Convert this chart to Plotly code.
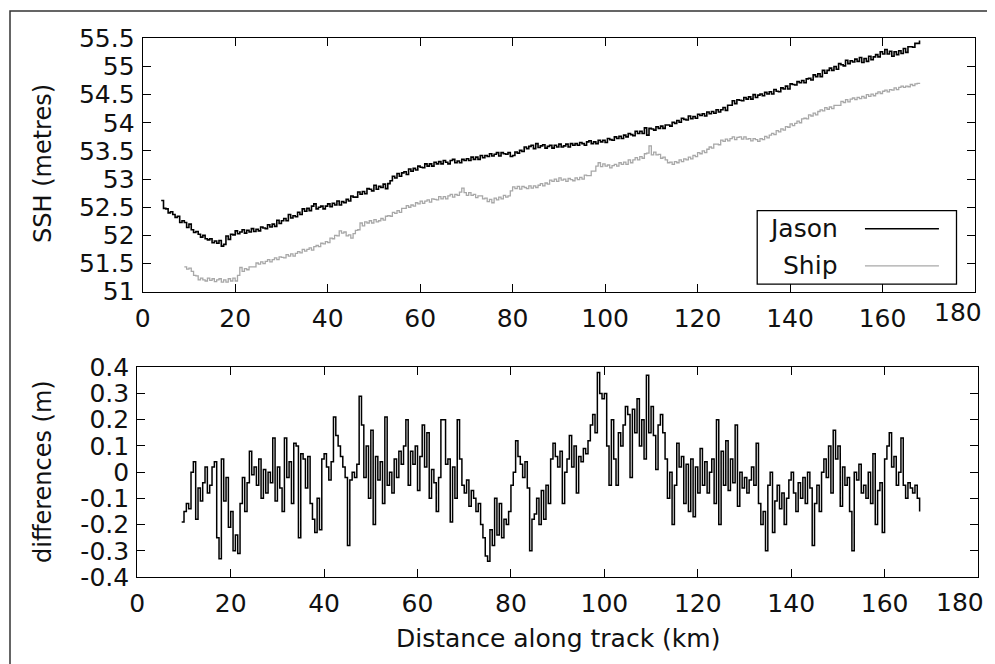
import plotly.graph_objects as go

# ---------------- data ----------------
step_km = 0.5

jason_start_km = 4.0
jason_ssh = [
    52.62, 52.48, 52.47, 52.40, 52.42, 52.37, 52.32, 52.34, 52.23, 52.26, 52.23, 52.14, 52.20, 52.10, 52.05, 52.07, 52.02, 51.97, 52.00, 51.94,
    51.92, 51.94, 51.87, 51.90, 51.86, 51.91, 51.81, 51.84, 51.99, 51.93, 52.02, 52.01, 52.08, 52.03, 52.06, 52.10, 52.04, 52.09, 52.06, 52.12,
    52.07, 52.11, 52.08, 52.15, 52.13, 52.12, 52.19, 52.15, 52.20, 52.16, 52.27, 52.21, 52.26, 52.30, 52.26, 52.37, 52.31, 52.35, 52.33, 52.41,
    52.37, 52.47, 52.43, 52.48, 52.44, 52.52, 52.56, 52.47, 52.50, 52.52, 52.47, 52.52, 52.56, 52.51, 52.57, 52.54, 52.61, 52.54, 52.60, 52.58,
    52.64, 52.61, 52.70, 52.68, 52.68, 52.77, 52.73, 52.78, 52.74, 52.83, 52.82, 52.79, 52.89, 52.82, 52.87, 52.85, 52.91, 52.83, 52.92, 52.97,
    53.05, 53.02, 53.10, 53.05, 53.11, 53.13, 53.08, 53.18, 53.14, 53.19, 53.16, 53.23, 53.21, 53.20, 53.27, 53.23, 53.27, 53.23, 53.30, 53.27,
    53.31, 53.27, 53.33, 53.30, 53.27, 53.33, 53.35, 53.29, 53.32, 53.29, 53.35, 53.33, 53.36, 53.33, 53.39, 53.35, 53.39, 53.35, 53.42, 53.38,
    53.42, 53.40, 53.45, 53.41, 53.44, 53.47, 53.41, 53.47, 53.45, 53.44, 53.47, 53.40, 53.42, 53.48, 53.46, 53.51, 53.49, 53.57, 53.54, 53.58,
    53.60, 53.54, 53.63, 53.56, 53.59, 53.61, 53.55, 53.58, 53.60, 53.55, 53.60, 53.57, 53.62, 53.57, 53.59, 53.62, 53.57, 53.63, 53.60, 53.63,
    53.60, 53.65, 53.63, 53.60, 53.66, 53.68, 53.63, 53.66, 53.63, 53.69, 53.66, 53.69, 53.65, 53.72, 53.70, 53.69, 53.75, 53.72, 53.76, 53.72,
    53.78, 53.75, 53.81, 53.79, 53.77, 53.85, 53.81, 53.85, 53.81, 53.91, 53.78, 53.90, 53.89, 53.87, 53.93, 53.90, 53.94, 53.90, 53.96, 53.96,
    53.94, 54.01, 53.99, 54.04, 54.01, 54.08, 54.06, 54.05, 54.12, 54.07, 54.11, 54.08, 54.15, 54.13, 54.16, 54.12, 54.19, 54.16, 54.20, 54.17,
    54.23, 54.19, 54.23, 54.27, 54.22, 54.31, 54.31, 54.39, 54.34, 54.41, 54.40, 54.39, 54.45, 54.42, 54.46, 54.42, 54.50, 54.45, 54.49, 54.51,
    54.48, 54.54, 54.51, 54.55, 54.51, 54.59, 54.56, 54.55, 54.62, 54.60, 54.65, 54.60, 54.69, 54.68, 54.67, 54.73, 54.71, 54.75, 54.71, 54.78,
    54.79, 54.76, 54.85, 54.82, 54.87, 54.82, 54.93, 54.88, 54.93, 54.97, 54.93, 55.00, 54.95, 55.05, 55.03, 55.01, 55.11, 55.05, 55.10, 55.08,
    55.13, 55.09, 55.16, 55.07, 55.14, 55.09, 55.18, 55.12, 55.17, 55.21, 55.17, 55.26, 55.22, 55.30, 55.22, 55.27, 55.18, 55.26, 55.21, 55.28,
    55.23, 55.32, 55.25, 55.35, 55.35, 55.34, 55.41, 55.41, 55.46,
]

ship_start_km = 9.0
ship_ssh = [
    51.44, 51.40, 51.42, 51.36, 51.29, 51.28, 51.21, 51.24, 51.21, 51.19, 51.24, 51.20, 51.23, 51.18, 51.21, 51.23, 51.17, 51.21, 51.17, 51.23,
    51.19, 51.24, 51.19, 51.29, 51.43, 51.36, 51.41, 51.39, 51.44, 51.44, 51.44, 51.51, 51.49, 51.53, 51.50, 51.54, 51.57, 51.53, 51.57, 51.60,
    51.57, 51.62, 51.61, 51.60, 51.66, 51.63, 51.67, 51.63, 51.68, 51.71, 51.69, 51.75, 51.72, 51.75, 51.78, 51.74, 51.80, 51.82, 51.80, 51.86,
    51.85, 51.89, 51.87, 51.95, 51.94, 52.00, 51.99, 52.08, 52.04, 52.06, 51.99, 52.01, 51.95, 52.03, 52.09, 52.10, 52.22, 52.17, 52.24, 52.22,
    52.26, 52.22, 52.28, 52.24, 52.26, 52.30, 52.27, 52.34, 52.35, 52.34, 52.41, 52.39, 52.44, 52.41, 52.48, 52.48, 52.53, 52.50, 52.54, 52.52,
    52.58, 52.56, 52.61, 52.57, 52.61, 52.63, 52.59, 52.65, 52.64, 52.63, 52.69, 52.65, 52.69, 52.65, 52.70, 52.73, 52.68, 52.73, 52.71, 52.77,
    52.84, 52.76, 52.71, 52.76, 52.71, 52.73, 52.67, 52.70, 52.70, 52.65, 52.66, 52.60, 52.64, 52.58, 52.66, 52.63, 52.68, 52.65, 52.71, 52.68,
    52.70, 52.79, 52.86, 52.83, 52.87, 52.82, 52.87, 52.85, 52.83, 52.88, 52.84, 52.88, 52.85, 52.89, 52.92, 52.88, 52.93, 52.91, 52.98, 52.96,
    53.00, 52.96, 53.02, 52.98, 53.00, 52.96, 53.01, 52.99, 52.97, 53.02, 52.99, 53.03, 53.00, 53.07, 53.06, 53.06, 53.14, 53.14, 53.23, 53.29,
    53.22, 53.27, 53.23, 53.25, 53.20, 53.24, 53.26, 53.23, 53.29, 53.26, 53.30, 53.26, 53.34, 53.29, 53.34, 53.38, 53.34, 53.40, 53.37, 53.45,
    53.46, 53.59, 53.43, 53.48, 53.43, 53.44, 53.37, 53.39, 53.34, 53.29, 53.30, 53.26, 53.31, 53.29, 53.34, 53.31, 53.36, 53.34, 53.39, 53.36,
    53.42, 53.40, 53.47, 53.45, 53.50, 53.47, 53.53, 53.57, 53.55, 53.62, 53.62, 53.61, 53.69, 53.67, 53.71, 53.68, 53.72, 53.75, 53.70, 53.74,
    53.75, 53.71, 53.75, 53.71, 53.72, 53.68, 53.72, 53.70, 53.67, 53.72, 53.70, 53.76, 53.73, 53.78, 53.81, 53.79, 53.86, 53.84, 53.89, 53.87,
    53.93, 53.92, 53.98, 53.95, 53.99, 54.03, 54.00, 54.07, 54.08, 54.07, 54.14, 54.12, 54.17, 54.14, 54.20, 54.23, 54.21, 54.27, 54.24, 54.28,
    54.25, 54.31, 54.31, 54.31, 54.38, 54.36, 54.41, 54.37, 54.42, 54.44, 54.41, 54.45, 54.43, 54.47, 54.44, 54.50, 54.47, 54.51, 54.48, 54.52,
    54.55, 54.52, 54.56, 54.58, 54.55, 54.59, 54.58, 54.62, 54.59, 54.63, 54.65, 54.63, 54.65, 54.64, 54.68, 54.66, 54.69, 54.70, 54.69,
]

diff_start_km = 9.5
differences = [
    -0.19, -0.15, -0.12, -0.14, 0.00, 0.04, -0.18, -0.06, -0.11, -0.04, 0.02, -0.08, -0.05, 0.02, 0.04, -0.25, -0.33, 0.05, -0.11, -0.02,
    -0.21, -0.15, -0.30, -0.24, -0.31, -0.12, -0.02, -0.15, -0.04, 0.08, -0.01, 0.02, -0.05, 0.05, -0.10, 0.01, -0.08, 0.00, -0.04, 0.13,
    -0.11, 0.02, -0.06, -0.15, 0.13, -0.02, 0.04, -0.12, 0.11, 0.10, -0.25, 0.07, 0.05, -0.06, 0.06, -0.12, -0.18, -0.23, -0.10, -0.22,
    0.05, 0.07, 0.02, -0.03, 0.04, 0.21, 0.14, 0.10, 0.06, 0.02, -0.02, -0.28, -0.03, 0.00, -0.02, 0.03, 0.29, 0.18, -0.02, 0.10,
    -0.10, 0.16, -0.20, 0.06, -0.03, 0.04, -0.12, 0.21, -0.05, 0.00, -0.08, 0.05, -0.02, 0.08, 0.03, 0.10, 0.20, -0.05, 0.08, 0.03,
    0.10, -0.07, 0.06, 0.18, 0.02, 0.15, -0.10, 0.01, -0.04, -0.15, -0.02, 0.20, 0.20, 0.03, 0.05, -0.19, 0.02, -0.10, 0.20, 0.05,
    -0.05, -0.08, -0.03, -0.13, -0.07, -0.10, -0.15, -0.12, -0.20, -0.25, -0.32, -0.34, -0.22, -0.28, -0.10, -0.24, -0.12, -0.25, -0.18, -0.20,
    -0.15, -0.05, 0.00, 0.12, 0.06, 0.03, -0.02, 0.04, -0.06, -0.30, -0.18, -0.16, -0.10, -0.20, -0.07, -0.18, -0.05, -0.12, 0.05, 0.11,
    0.06, 0.02, 0.08, -0.12, 0.00, 0.05, 0.14, 0.02, 0.10, -0.08, 0.06, 0.04, 0.09, 0.07, 0.12, 0.18, 0.22, 0.15, 0.38, 0.30,
    0.28, 0.30, 0.10, -0.05, 0.20, 0.05, -0.05, 0.15, 0.10, 0.18, 0.25, 0.22, -0.02, 0.24, 0.15, 0.28, 0.10, 0.20, 0.05, 0.37,
    0.15, 0.25, 0.14, 0.01, 0.18, 0.22, 0.15, 0.05, -0.10, 0.00, -0.20, -0.05, 0.11, 0.02, 0.06, -0.12, 0.03, -0.15, 0.05, -0.17,
    0.02, -0.08, 0.09, -0.05, 0.04, -0.08, 0.00, 0.05, -0.12, 0.20, -0.20, 0.08, -0.05, 0.12, -0.07, 0.05, -0.04, 0.18, -0.13, 0.00,
    -0.06, -0.02, -0.08, -0.03, 0.02, -0.05, 0.11, -0.12, -0.20, -0.15, -0.30, -0.05, 0.00, -0.23, -0.11, -0.05, -0.14, -0.08, -0.20, -0.10,
    -0.03, 0.00, -0.08, -0.15, -0.04, -0.10, -0.02, -0.12, 0.00, -0.06, -0.28, -0.12, -0.05, -0.15, 0.00, 0.05, -0.02, 0.10, -0.08, 0.16,
    0.05, 0.10, -0.13, 0.02, -0.05, -0.02, -0.15, -0.30, 0.00, -0.03, 0.03, -0.08, -0.05, -0.10, 0.00, -0.12, 0.07, -0.20, -0.07, -0.04,
    -0.23, 0.05, 0.10, 0.15, 0.02, 0.06, -0.05, 0.00, 0.13, -0.05, -0.10, -0.04, -0.06, -0.08, -0.05, -0.10, -0.15,
]

x_tick_vals = [0, 20, 40, 60, 80, 100, 120, 140, 160, 180]
x_tick_text = ["0", "20", "40", "60", "80", "100", "120", "140", "160", "180"]
ssh_tick_vals = [51, 51.5, 52, 52.5, 53, 53.5, 54, 54.5, 55, 55.5]
ssh_tick_text = ["51", "51.5", "52", "52.5", "53", "53.5", "54", "54.5", "55", "55.5"]
diff_tick_vals = [-0.4, -0.3, -0.2, -0.1, 0, 0.1, 0.2, 0.3, 0.4]
diff_tick_text = ["-0.4", "-0.3", "-0.2", "-0.1", "0", "0.1", "0.2", "0.3", "0.4"]

series_names = ["Jason", "Ship"]
series_colors = ["#000000", "#a8a8a8"]

# ---------------- figure ----------------
def km_axis(start, n):
    return [start + i * step_km for i in range(n)]

FONT = "DejaVu Sans"
TXT = "#111111"
TICK_SIZE = 25
fig = go.Figure()

fig.add_trace(go.Scatter(x=km_axis(jason_start_km, len(jason_ssh)), y=jason_ssh,
                         mode="lines", line=dict(color=series_colors[0], width=1.6, shape="hv"),
                         name=series_names[0], xaxis="x", yaxis="y", showlegend=False))
fig.add_trace(go.Scatter(x=km_axis(ship_start_km, len(ship_ssh)), y=ship_ssh,
                         mode="lines", line=dict(color=series_colors[1], width=1.3, shape="hv"),
                         name=series_names[1], xaxis="x", yaxis="y", showlegend=False))
fig.add_trace(go.Scatter(x=km_axis(diff_start_km, len(differences)), y=differences,
                         mode="lines", line=dict(color="#000000", width=1.5, shape="hv"),
                         name="differences", xaxis="x2", yaxis="y2", showlegend=False))

axis_common = dict(showline=True, linecolor="#000000", linewidth=1.3, mirror="ticks",
                   ticks="inside", ticklen=8, tickwidth=1.3, tickcolor="#000000",
                   showgrid=False, zeroline=False,
                   tickfont=dict(family=FONT, size=TICK_SIZE, color=TXT))

# page is drawn with an 8px body offset; work in page pixels
OFF = 8
W, H = 995, 664
L, R, T, B = 129, 25, 30, 95
pw, ph = W - L - R, H - T - B

def px(xp):
    return (xp - OFF - L) / pw

def py(yp):
    return (H - B - (yp - OFF)) / ph

def dom(a, b):
    return [max(0.0, min(1.0, a)), max(0.0, min(1.0, b))]

x_text_shown = x_tick_text[:-1] + [""]   # last label placed like the original (pulled inwards)

fig.update_layout(
    width=W, height=H,
    margin=dict(l=L, r=R, t=T, b=B),
    paper_bgcolor="white", plot_bgcolor="white",
    xaxis=dict(domain=dom(px(142.7), px(975)), range=[0, 180], tickvals=x_tick_vals,
               ticktext=x_text_shown, anchor="y", ticklabelstandoff=4, **axis_common),
    yaxis=dict(domain=dom(py(291.7), py(38.3)), range=[51, 55.5], tickvals=ssh_tick_vals,
               ticktext=ssh_tick_text, anchor="x", ticklabelstandoff=2, **axis_common),
    xaxis2=dict(domain=dom(px(137.3), px(978)), range=[0, 180], tickvals=x_tick_vals,
                ticktext=x_text_shown, anchor="y2", ticklabelstandoff=4, **axis_common),
    yaxis2=dict(domain=dom(py(577.3), py(367.3)), range=[-0.4, 0.4], tickvals=diff_tick_vals,
                ticktext=diff_tick_text, anchor="x2", ticklabelstandoff=2, **axis_common),
    showlegend=False,
)

annotations = [
    dict(text="SSH (metres)", x=px(43), y=py(164), xref="paper", yref="paper",
         textangle=-90, showarrow=False, xanchor="center", yanchor="middle",
         font=dict(family=FONT, size=24, color=TXT)),
    dict(text="differences (m)", x=px(43), y=py(472), xref="paper", yref="paper",
         textangle=-90, showarrow=False, xanchor="center", yanchor="middle",
         font=dict(family=FONT, size=24, color=TXT)),
    dict(text="Distance along track (km)", x=px(557.6), y=py(638), xref="paper", yref="paper",
         showarrow=False, xanchor="center", yanchor="middle",
         font=dict(family=FONT, size=25, color=TXT)),
    dict(text=x_tick_text[-1], x=x_tick_vals[-1], xref="x", xshift=-17, y=py(312), yref="paper",
         showarrow=False, xanchor="center", yanchor="middle",
         font=dict(family=FONT, size=TICK_SIZE, color=TXT)),
    dict(text=x_tick_text[-1], x=x_tick_vals[-1], xref="x2", xshift=-18, y=py(602), yref="paper",
         showarrow=False, xanchor="center", yanchor="middle",
         font=dict(family=FONT, size=TICK_SIZE, color=TXT)),
]

# legend drawn gnuplot-style (text, then sample line) inside the top panel
legend_y = [52.12, 51.46]
for name, color, ly in zip(series_names, series_colors, legend_y):
    annotations.append(dict(text=name, x=150.8, y=ly, xref="x", yref="y", showarrow=False,
                            xanchor="right", yanchor="middle",
                            font=dict(family=FONT, size=25, color=TXT)))

shapes = [
    dict(type="rect", xref="x", yref="y", x0=132.9, x1=176.0, y0=51.135, y1=52.44,
         line=dict(color="#000000", width=1.3), fillcolor="rgba(0,0,0,0)"),
    dict(type="rect", xref="paper", yref="paper", x0=px(10), x1=px(1010), y0=py(680), y1=py(11),
         line=dict(color="#333333", width=1.5), fillcolor="rgba(0,0,0,0)", layer="below"),
]
for color, ly, w in zip(series_colors, legend_y, [1.5, 1.3]):
    shapes.append(dict(type="line", xref="x", yref="y", x0=156.2, x1=172.2, y0=ly, y1=ly,
                       line=dict(color=color, width=w)))

fig.update_layout(annotations=annotations, shapes=shapes)

fig.write_html("out.html")
